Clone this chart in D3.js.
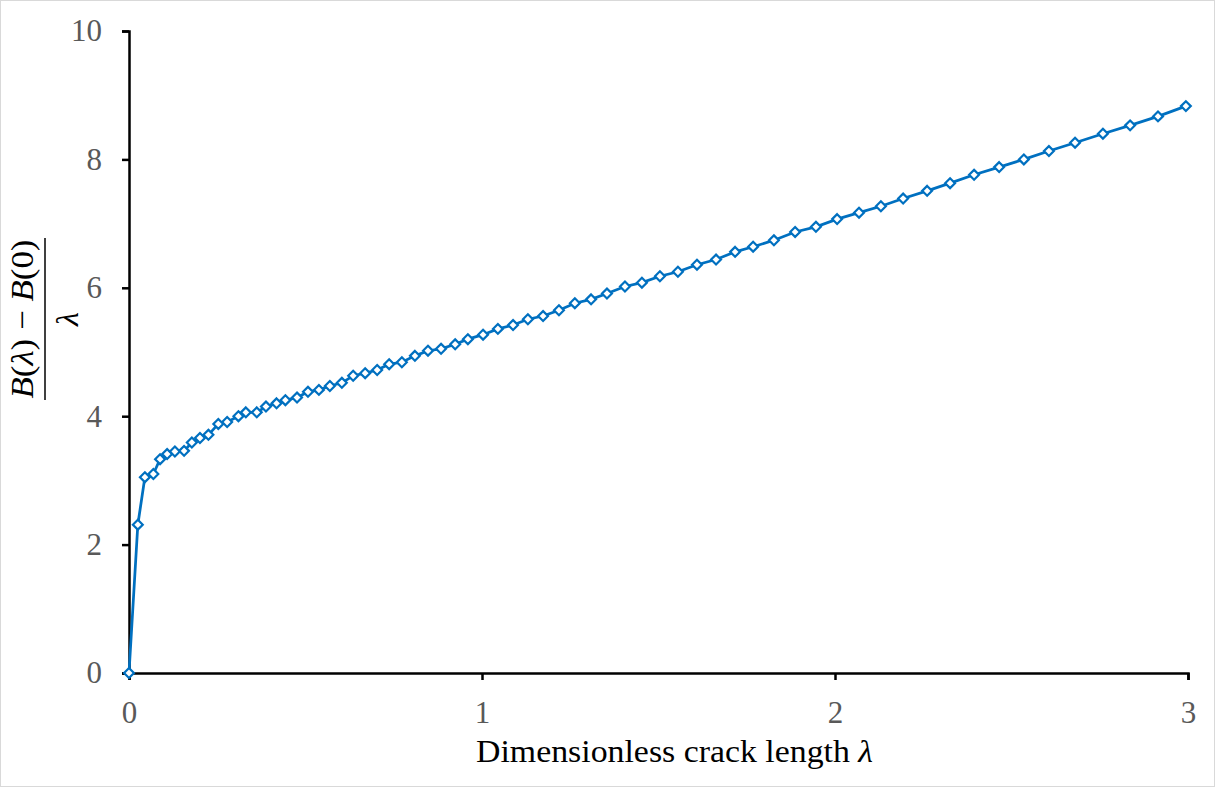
<!DOCTYPE html>
<html>
<head>
<meta charset="utf-8">
<script src="https://cdn.jsdelivr.net/npm/d3@7"></script>
<style>
  html, body { margin: 0; padding: 0; background: #fff; }
  svg { display: block; font-family: "Liberation Serif", "Times New Roman", serif; }
</style>
</head>
<body>
<div id="chart"></div>
<script>
// dimensionless crack length (x) and normalised B difference (y)
const lambda = [0, 0.025, 0.045, 0.069, 0.088, 0.108, 0.130, 0.156, 0.178, 0.201,
  0.225, 0.253, 0.278, 0.310, 0.331, 0.362, 0.388, 0.418, 0.443, 0.476,
  0.507, 0.538, 0.569, 0.603, 0.635, 0.669, 0.703, 0.737, 0.773, 0.810,
  0.847, 0.884, 0.924, 0.960, 1.003, 1.045, 1.088, 1.130, 1.173, 1.218,
  1.263, 1.309, 1.354, 1.405, 1.453, 1.504, 1.555, 1.609, 1.663, 1.717,
  1.768, 1.827, 1.887, 1.946, 2.006, 2.068, 2.130, 2.193, 2.261, 2.326,
  2.394, 2.465, 2.535, 2.606, 2.680, 2.759, 2.836, 2.915, 2.994];
const ratio = [0, 2.31, 3.05, 3.10, 3.33, 3.41, 3.45, 3.46, 3.59, 3.66,
  3.71, 3.88, 3.91, 4.00, 4.06, 4.06, 4.15, 4.20, 4.25, 4.29,
  4.38, 4.41, 4.47, 4.52, 4.63, 4.67, 4.72, 4.81, 4.84, 4.94,
  5.02, 5.05, 5.12, 5.20, 5.27, 5.36, 5.42, 5.51, 5.56, 5.65,
  5.76, 5.82, 5.91, 6.02, 6.08, 6.18, 6.25, 6.36, 6.44, 6.56,
  6.64, 6.74, 6.87, 6.95, 7.07, 7.17, 7.27, 7.39, 7.51, 7.63,
  7.76, 7.88, 8.00, 8.13, 8.26, 8.40, 8.53, 8.67, 8.83];
const xTicks = [0, 1, 2, 3];
const yTicks = [0, 2, 4, 6, 8, 10];

const width = 1215, height = 787;
const margin = {top: 31, right: 27, bottom: 114, left: 129};
const blue = '#0070c0';

const data = lambda.map((l, i) => ({x: l, y: ratio[i]}));

const svg = d3.select('#chart').append('svg')
  .attr('width', width)
  .attr('height', height);

// light frame round the chart area
svg.append('rect')
  .attr('x', 0.5).attr('y', 0.5)
  .attr('width', width - 1).attr('height', height - 1)
  .attr('fill', '#fff')
  .attr('stroke', '#d9d9d9');

const x = d3.scaleLinear().domain([0, 3]).range([margin.left, width - margin.right]);
const y = d3.scaleLinear().domain([0, 10]).range([height - margin.bottom, margin.top]);

const xAxis = svg.append('g')
  .attr('transform', `translate(0,${y(0)})`)
  .call(d3.axisBottom(x).tickValues(xTicks).tickFormat(d3.format('d')).tickSize(7).tickPadding(21));

const yAxis = svg.append('g')
  .attr('transform', `translate(${x(0)},0)`)
  .call(d3.axisLeft(y).tickValues(yTicks).tickFormat(d3.format('d')).tickSize(7).tickPadding(20));

[xAxis, yAxis].forEach(g => {
  g.select('.domain').attr('stroke', '#000').attr('stroke-width', 2.5);
  g.selectAll('.tick line').attr('stroke', '#000').attr('stroke-width', 2.5);
  g.selectAll('.tick text')
    .attr('fill', '#595959')
    .style('font-size', '31px')
    .style('font-family', '"Liberation Serif", serif');
});

// series
const line = d3.line().x(d => x(d.x)).y(d => y(d.y));

svg.append('path')
  .datum(data)
  .attr('fill', 'none')
  .attr('stroke', blue)
  .attr('stroke-width', 2.75)
  .attr('d', line);

const diamond = d3.symbol().type(d3.symbolDiamond2).size(62);
svg.append('g')
  .selectAll('path')
  .data(data)
  .join('path')
  .attr('transform', d => `translate(${x(d.x)},${y(d.y)})`)
  .attr('d', diamond)
  .attr('fill', '#fff')
  .attr('stroke', blue)
  .attr('stroke-width', 2.2);

// x title, stretched a little like the original rendering
const xg = svg.append('g');
const xt = xg.append('text')
  .attr('x', 0).attr('y', 0)
  .attr('text-anchor', 'middle')
  .style('font-size', '31px')
  .attr('fill', '#000');
xt.append('tspan').text('Dimensionless crack length ');
xt.append('tspan').style('font-style', 'italic').text('λ');
const xw = xt.node().getComputedTextLength();
xg.attr('transform', `translate(674.5,762) scale(${397 / xw},1)`);

// y title as a fraction, rotated
const cy = 319;
const yt = svg.append('g').attr('transform', `translate(0,${cy}) rotate(-90)`);
const num = yt.append('text')
  .attr('x', 0).attr('y', 33)
  .attr('text-anchor', 'middle')
  .style('font-size', '32px')
  .attr('fill', '#000');
num.append('tspan').style('font-style', 'italic').text('B');
num.append('tspan').text('(');
num.append('tspan').style('font-style', 'italic').text('λ');
num.append('tspan').text(') \u2212 ');
num.append('tspan').style('font-style', 'italic').text('B');
num.append('tspan').text('(0)');
const nw = num.node().getComputedTextLength();
num.attr('transform', `scale(${159 / nw},1)`);
yt.append('line')
  .attr('x1', -81).attr('x2', 81)
  .attr('y1', 45).attr('y2', 45)
  .attr('stroke', '#000').attr('stroke-width', 1.5);
yt.append('text')
  .attr('x', 0).attr('y', 78)
  .attr('text-anchor', 'middle')
  .style('font-size', '32px')
  .style('font-style', 'italic')
  .attr('fill', '#000')
  .text('λ');
</script>
</body>
</html>
